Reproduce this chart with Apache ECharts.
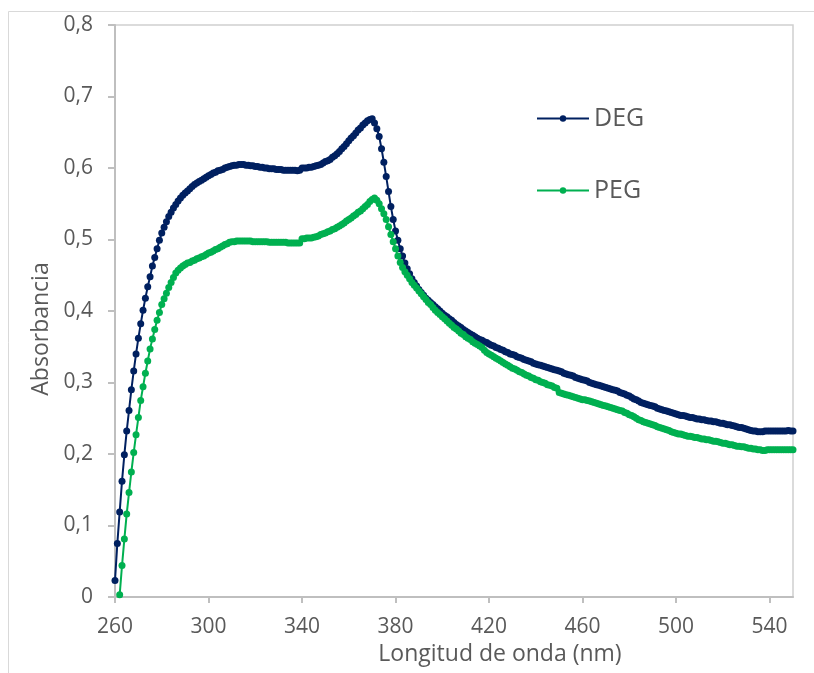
<!DOCTYPE html>
<html>
<head>
<meta charset="utf-8">
<script src="https://cdn.jsdelivr.net/npm/echarts@6/dist/echarts.min.js"></script>
<style>
html,body{margin:0;padding:0;background:#fff;}
#chart{width:814px;height:673px;}
</style>
</head>
<body>
<div id="chart"></div>
<script>
// Wavelength (nm) of the first point of each series, 1 nm step
const DEG_START = 260;
const PEG_START = 262;
const STEP_NM = 1;

const xTicks = [260, 300, 340, 380, 420, 460, 500, 540];
const yTicks = ['0', '0,1', '0,2', '0,3', '0,4', '0,5', '0,6', '0,7', '0,8'];

const degValues = [
  0.023,0.075,0.119,0.162,0.199,0.232,0.261,0.290,0.316,0.340,
  0.362,0.382,0.401,0.418,0.434,0.448,0.463,0.475,0.487,0.499,
  0.509,0.517,0.525,0.532,0.538,0.544,0.549,0.554,0.558,0.562,
  0.565,0.568,0.571,0.574,0.577,0.579,0.581,0.583,0.585,0.587,
  0.589,0.591,0.593,0.594,0.596,0.597,0.598,0.600,0.601,0.602,
  0.603,0.604,0.604,0.605,0.605,0.605,0.604,0.604,0.603,0.603,
  0.602,0.602,0.601,0.601,0.600,0.600,0.599,0.599,0.599,0.598,
  0.598,0.598,0.597,0.597,0.597,0.597,0.597,0.597,0.596,0.597,
  0.600,0.600,0.600,0.601,0.601,0.602,0.603,0.604,0.605,0.607,
  0.609,0.610,0.612,0.615,0.617,0.620,0.623,0.627,0.630,0.634,
  0.638,0.642,0.645,0.649,0.653,0.656,0.660,0.663,0.666,0.668,
  0.669,0.663,0.655,0.644,0.627,0.608,0.588,0.567,0.546,0.528,
  0.512,0.499,0.487,0.477,0.467,0.459,0.452,0.445,0.440,0.435,
  0.430,0.426,0.422,0.418,0.415,0.412,0.409,0.406,0.403,0.400,
  0.397,0.394,0.392,0.389,0.387,0.384,0.381,0.379,0.377,0.374,
  0.372,0.370,0.368,0.366,0.364,0.362,0.360,0.359,0.357,0.356,
  0.354,0.352,0.351,0.349,0.348,0.346,0.345,0.343,0.342,0.340,
  0.339,0.338,0.336,0.335,0.334,0.332,0.331,0.330,0.329,0.327,
  0.326,0.325,0.324,0.323,0.322,0.321,0.320,0.319,0.318,0.317,
  0.316,0.315,0.313,0.312,0.311,0.310,0.309,0.307,0.306,0.305,
  0.304,0.303,0.302,0.300,0.299,0.298,0.297,0.296,0.295,0.294,
  0.293,0.292,0.291,0.290,0.289,0.288,0.286,0.285,0.284,0.282,
  0.281,0.279,0.277,0.276,0.274,0.272,0.271,0.270,0.269,0.268,
  0.267,0.266,0.264,0.263,0.262,0.261,0.260,0.259,0.258,0.257,
  0.256,0.255,0.254,0.254,0.253,0.252,0.251,0.251,0.250,0.249,
  0.249,0.248,0.248,0.247,0.246,0.246,0.245,0.245,0.244,0.243,
  0.243,0.242,0.241,0.241,0.240,0.239,0.238,0.237,0.237,0.236,
  0.235,0.234,0.233,0.232,0.232,0.231,0.231,0.231,0.232,0.232,
  0.232,0.232,0.232,0.232,0.232,0.232,0.232,0.232,0.233,0.232,
  0.232
];

const pegValues = [
  0.003,0.044,0.081,0.116,0.146,0.175,0.202,0.227,
  0.251,0.275,0.294,0.313,0.330,0.347,0.361,0.374,0.387,0.398,
  0.409,0.417,0.425,0.433,0.440,0.447,0.453,0.457,0.460,0.463,
  0.465,0.467,0.468,0.470,0.471,0.473,0.474,0.476,0.477,0.479,
  0.481,0.482,0.484,0.486,0.487,0.489,0.491,0.493,0.494,0.496,
  0.497,0.497,0.498,0.498,0.498,0.498,0.498,0.498,0.498,0.497,
  0.497,0.497,0.497,0.497,0.497,0.497,0.496,0.496,0.496,0.496,
  0.496,0.496,0.496,0.496,0.495,0.495,0.495,0.495,0.495,0.495,
  0.501,0.501,0.502,0.502,0.502,0.503,0.504,0.505,0.507,0.508,
  0.509,0.511,0.512,0.514,0.515,0.517,0.519,0.521,0.523,0.526,
  0.528,0.530,0.533,0.535,0.538,0.540,0.543,0.546,0.549,0.553,
  0.556,0.558,0.555,0.550,0.543,0.536,0.528,0.518,0.507,0.497,
  0.487,0.477,0.468,0.461,0.455,0.450,0.445,0.440,0.436,0.432,
  0.428,0.424,0.420,0.416,0.412,0.409,0.405,0.401,0.398,0.395,
  0.392,0.389,0.386,0.383,0.380,0.377,0.375,0.372,0.369,0.367,
  0.364,0.362,0.360,0.357,0.355,0.353,0.351,0.349,0.345,0.342,
  0.340,0.338,0.336,0.334,0.332,0.330,0.328,0.326,0.324,0.322,
  0.320,0.319,0.317,0.315,0.314,0.312,0.310,0.309,0.307,0.306,
  0.304,0.303,0.301,0.300,0.299,0.297,0.296,0.295,0.293,0.292,
  0.286,0.285,0.284,0.283,0.282,0.281,0.280,0.279,0.278,0.277,
  0.276,0.276,0.275,0.274,0.273,0.272,0.271,0.270,0.269,0.268,
  0.267,0.266,0.265,0.264,0.263,0.262,0.261,0.260,0.258,0.257,
  0.255,0.254,0.252,0.250,0.248,0.247,0.245,0.244,0.243,0.242,
  0.241,0.240,0.238,0.237,0.236,0.235,0.234,0.233,0.231,0.230,
  0.229,0.228,0.228,0.227,0.226,0.225,0.225,0.224,0.223,0.223,
  0.222,0.221,0.221,0.220,0.220,0.219,0.218,0.218,0.217,0.216,
  0.215,0.215,0.214,0.213,0.213,0.212,0.211,0.211,0.210,0.210,
  0.209,0.208,0.208,0.207,0.207,0.206,0.206,0.205,0.205,0.206,
  0.206,0.206,0.206,0.206,0.206,0.206,0.206,0.206,0.206,0.206,
  0.206
];

const seriesNames = ['DEG', 'PEG'];
const seriesColors = ['#002060', '#00B050'];

function toPairs(start, values) {
  return values.map((v, i) => [start + i * STEP_NM, v]);
}

const FONT = '"Open Sans", "Noto Sans", sans-serif';
const TEXT = '#595959';

const chart = echarts.init(document.getElementById('chart'), null, {renderer: 'canvas'});
chart.setOption({
  animation: false,
  backgroundColor: '#fff',
  graphic: [{
    type: 'rect',
    shape: {x: 8.5, y: 11.5, width: 900, height: 800},
    style: {fill: 'none', stroke: '#d9d9d9', lineWidth: 1},
    silent: true, z: -10
  }],
  grid: {
    left: 115, top: 25, right: 21, bottom: 76,
    show: true, borderColor: '#d0d0d0', borderWidth: 1.5
  },
  legend: {
    orient: 'vertical',
    left: 531, top: 101,
    itemWidth: 52, itemHeight: 8,
    itemGap: 47,
    data: seriesNames,
    textStyle: {fontFamily: FONT, fontSize: 25, color: TEXT}
  },
  xAxis: {
    type: 'value',
    min: xTicks[0], max: 550, interval: xTicks[1] - xTicks[0],
    name: 'Longitud de onda (nm)',
    nameLocation: 'middle', nameGap: 43,
    nameTextStyle: {fontFamily: FONT, fontSize: 23, color: TEXT, padding: [0, 0, 0, 92]},
    axisLine: {show: true, onZero: false, lineStyle: {color: '#bfbfbf', width: 2}},
    axisTick: {show: true, length: 6, lineStyle: {color: '#bfbfbf', width: 2}},
    axisLabel: {
      margin: 20, fontFamily: FONT, fontSize: 21, color: TEXT,
      showMaxLabel: false,
      formatter: v => (xTicks.indexOf(v) >= 0 ? String(v) : '')
    },
    splitLine: {show: false}
  },
  yAxis: {
    type: 'value',
    min: 0, max: 0.8, interval: 0.1,
    name: 'Absorbancia',
    nameLocation: 'middle', nameGap: 60,
    nameTextStyle: {fontFamily: FONT, fontSize: 23, color: TEXT, padding: [0, 36, 0, 0]},
    axisLine: {show: true, lineStyle: {color: '#bfbfbf', width: 2}},
    axisTick: {show: true, length: 7, lineStyle: {color: '#bfbfbf', width: 2}},
    axisLabel: {
      margin: 22, fontFamily: FONT, fontSize: 21, color: TEXT,
      formatter: v => yTicks[Math.round(v * 10)]
    },
    splitLine: {show: false}
  },
  series: [
    {
      name: seriesNames[0], type: 'line',
      data: toPairs(DEG_START, degValues),
      symbol: 'circle', symbolSize: 7, showAllSymbol: true,
      itemStyle: {color: seriesColors[0]},
      lineStyle: {color: seriesColors[0], width: 2},
      z: 2
    },
    {
      name: seriesNames[1], type: 'line',
      data: toPairs(PEG_START, pegValues),
      symbol: 'circle', symbolSize: 7, showAllSymbol: true,
      itemStyle: {color: seriesColors[1]},
      lineStyle: {color: seriesColors[1], width: 2},
      z: 3
    }
  ]
});
</script>
</body>
</html>
